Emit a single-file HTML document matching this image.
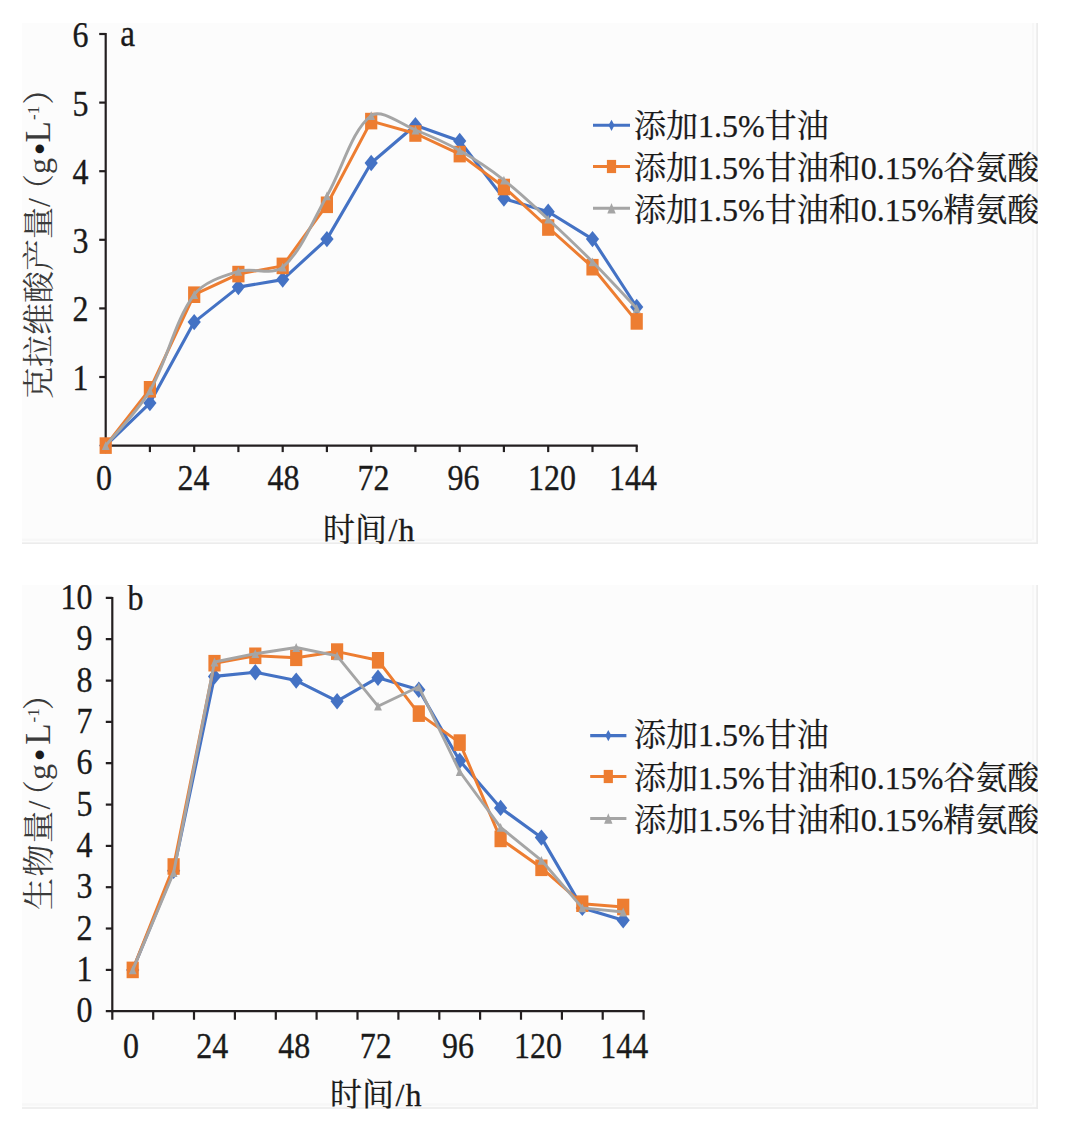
<!DOCTYPE html>
<html lang="zh-CN"><head><meta charset="utf-8"><title>克拉维酸产量与生物量</title>
<style>
html,body{margin:0;padding:0;background:#fff;}
body{width:1075px;height:1129px;overflow:hidden;}
svg{display:block;}
.tk{font-family:"Liberation Serif", "Noto Serif CJK SC", serif;font-size:32px;fill:#1a1a1a;stroke:#1a1a1a;stroke-width:0.3px;}
.lg{font-family:"Liberation Serif", "Noto Serif CJK SC", serif;font-size:32px;fill:#1a1a1a;stroke:#1a1a1a;stroke-width:0.25px;}
.yt{font-family:"Liberation Serif", "Noto Serif CJK SC", serif;font-size:32px;fill:#3a3a3a;}
.bul{font-family:"Liberation Sans",sans-serif;fill:#1a1a1a;}
</style></head>
<body>
<svg width="1075" height="1129" viewBox="0 0 1075 1129">
<rect x="22" y="23" width="1016" height="521" fill="#fcfcfc"/>
<rect x="22" y="585" width="1016" height="523.8" fill="#fcfcfc"/>
<rect x="1032" y="23.0" width="2" height="517.0" fill="#f7f7f7"/>
<rect x="22" y="538.5" width="1010" height="2.5" fill="#f7f7f7"/>
<rect x="1036.3" y="23.0" width="1.7" height="521.0" fill="#ececec"/>
<rect x="22" y="542.4" width="1016" height="1.6" fill="#ececec"/>
<rect x="1032" y="585.0" width="2" height="519.8" fill="#f7f7f7"/>
<rect x="22" y="1103.3" width="1010" height="2.5" fill="#f7f7f7"/>
<rect x="1036.3" y="585.0" width="1.7" height="523.8" fill="#ececec"/>
<rect x="22" y="1107.2" width="1016" height="1.6" fill="#ececec"/>
<svg x="22" y="23" width="1016" height="521" viewBox="22 23 1016 521" overflow="hidden">
<line x1="105.7" y1="33.0" x2="105.7" y2="446.6" stroke="#231f20" stroke-width="2.2"/>
<line x1="104.7" y1="445.6" x2="637.7" y2="445.6" stroke="#231f20" stroke-width="2.2"/>
<line x1="99.2" y1="377.0" x2="105.7" y2="377.0" stroke="#231f20" stroke-width="2.2"/>
<text transform="translate(80.5 390.0) scale(1 1.12)" class="tk" text-anchor="middle">1</text>
<line x1="99.2" y1="308.4" x2="105.7" y2="308.4" stroke="#231f20" stroke-width="2.2"/>
<text transform="translate(80.5 321.4) scale(1 1.12)" class="tk" text-anchor="middle">2</text>
<line x1="99.2" y1="239.8" x2="105.7" y2="239.8" stroke="#231f20" stroke-width="2.2"/>
<text transform="translate(80.5 252.8) scale(1 1.12)" class="tk" text-anchor="middle">3</text>
<line x1="99.2" y1="171.2" x2="105.7" y2="171.2" stroke="#231f20" stroke-width="2.2"/>
<text transform="translate(80.5 184.2) scale(1 1.12)" class="tk" text-anchor="middle">4</text>
<line x1="99.2" y1="102.6" x2="105.7" y2="102.6" stroke="#231f20" stroke-width="2.2"/>
<text transform="translate(80.5 115.6) scale(1 1.12)" class="tk" text-anchor="middle">5</text>
<line x1="99.2" y1="34.0" x2="105.7" y2="34.0" stroke="#231f20" stroke-width="2.2"/>
<text transform="translate(80.5 47.0) scale(1 1.12)" class="tk" text-anchor="middle">6</text>
<line x1="149.9" y1="445.6" x2="149.9" y2="452.1" stroke="#231f20" stroke-width="2.2"/>
<line x1="194.2" y1="445.6" x2="194.2" y2="452.1" stroke="#231f20" stroke-width="2.2"/>
<line x1="238.4" y1="445.6" x2="238.4" y2="452.1" stroke="#231f20" stroke-width="2.2"/>
<line x1="282.7" y1="445.6" x2="282.7" y2="452.1" stroke="#231f20" stroke-width="2.2"/>
<line x1="326.9" y1="445.6" x2="326.9" y2="452.1" stroke="#231f20" stroke-width="2.2"/>
<line x1="371.2" y1="445.6" x2="371.2" y2="452.1" stroke="#231f20" stroke-width="2.2"/>
<line x1="415.4" y1="445.6" x2="415.4" y2="452.1" stroke="#231f20" stroke-width="2.2"/>
<line x1="459.7" y1="445.6" x2="459.7" y2="452.1" stroke="#231f20" stroke-width="2.2"/>
<line x1="503.9" y1="445.6" x2="503.9" y2="452.1" stroke="#231f20" stroke-width="2.2"/>
<line x1="548.2" y1="445.6" x2="548.2" y2="452.1" stroke="#231f20" stroke-width="2.2"/>
<line x1="592.5" y1="445.6" x2="592.5" y2="452.1" stroke="#231f20" stroke-width="2.2"/>
<line x1="636.7" y1="445.6" x2="636.7" y2="452.1" stroke="#231f20" stroke-width="2.2"/>
<text transform="translate(104.0 490.0) scale(1 1.12)" class="tk" text-anchor="middle">0</text>
<text transform="translate(193.6 490.0) scale(1 1.12)" class="tk" text-anchor="middle">24</text>
<text transform="translate(283.5 490.0) scale(1 1.12)" class="tk" text-anchor="middle">48</text>
<text transform="translate(373.5 490.0) scale(1 1.12)" class="tk" text-anchor="middle">72</text>
<text transform="translate(463.5 490.0) scale(1 1.12)" class="tk" text-anchor="middle">96</text>
<text transform="translate(552.0 490.0) scale(1 1.12)" class="tk" text-anchor="middle">120</text>
<text transform="translate(633.0 490.0) scale(1 1.12)" class="tk" text-anchor="middle">144</text>
<text transform="translate(120.3 45.6) scale(1.04 1.2)" class="tk">a</text>
<path d="M105.7 445.6 L149.9 403.1 L194.2 322.1 L238.4 287.1 L282.7 279.6 L326.9 239.1 L371.2 163.0 L415.4 125.2 L459.7 141.0 L503.9 198.6 L548.2 211.7 L592.5 239.1 L636.7 307.0" fill="none" stroke="#4472c4" stroke-width="3.1" stroke-linejoin="round"/>
<path d="M105.7 437.4L112.3 445.6L105.7 453.8L99.1 445.6Z" fill="#4472c4"/>
<path d="M149.9 394.9L156.5 403.1L149.9 411.3L143.3 403.1Z" fill="#4472c4"/>
<path d="M194.2 313.9L200.8 322.1L194.2 330.3L187.6 322.1Z" fill="#4472c4"/>
<path d="M238.4 278.9L245.0 287.1L238.4 295.3L231.8 287.1Z" fill="#4472c4"/>
<path d="M282.7 271.4L289.3 279.6L282.7 287.8L276.1 279.6Z" fill="#4472c4"/>
<path d="M326.9 230.9L333.6 239.1L326.9 247.3L320.3 239.1Z" fill="#4472c4"/>
<path d="M371.2 154.8L377.8 163.0L371.2 171.2L364.6 163.0Z" fill="#4472c4"/>
<path d="M415.4 117.0L422.1 125.2L415.4 133.4L408.8 125.2Z" fill="#4472c4"/>
<path d="M459.7 132.8L466.3 141.0L459.7 149.2L453.1 141.0Z" fill="#4472c4"/>
<path d="M503.9 190.4L510.6 198.6L503.9 206.8L497.3 198.6Z" fill="#4472c4"/>
<path d="M548.2 203.5L554.8 211.7L548.2 219.9L541.6 211.7Z" fill="#4472c4"/>
<path d="M592.5 230.9L599.1 239.1L592.5 247.3L585.9 239.1Z" fill="#4472c4"/>
<path d="M636.7 298.8L643.3 307.0L636.7 315.2L630.1 307.0Z" fill="#4472c4"/>
<path d="M105.7 445.6 L149.9 389.3 L194.2 294.7 L238.4 274.1 L282.7 265.9 L326.9 204.8 L371.2 121.1 L415.4 133.5 L459.7 154.1 L503.9 187.0 L548.2 227.5 L592.5 267.2 L636.7 321.4" fill="none" stroke="#ed7d31" stroke-width="3.0" stroke-linejoin="round"/>
<rect x="99.6" y="437.3" width="12.2" height="16.6" fill="#ed7d31"/>
<rect x="143.8" y="381.0" width="12.2" height="16.6" fill="#ed7d31"/>
<rect x="188.1" y="286.4" width="12.2" height="16.6" fill="#ed7d31"/>
<rect x="232.3" y="265.8" width="12.2" height="16.6" fill="#ed7d31"/>
<rect x="276.6" y="257.6" width="12.2" height="16.6" fill="#ed7d31"/>
<rect x="320.8" y="196.5" width="12.2" height="16.6" fill="#ed7d31"/>
<rect x="365.1" y="112.8" width="12.2" height="16.6" fill="#ed7d31"/>
<rect x="409.3" y="125.2" width="12.2" height="16.6" fill="#ed7d31"/>
<rect x="453.6" y="145.8" width="12.2" height="16.6" fill="#ed7d31"/>
<rect x="497.8" y="178.7" width="12.2" height="16.6" fill="#ed7d31"/>
<rect x="542.1" y="219.2" width="12.2" height="16.6" fill="#ed7d31"/>
<rect x="586.4" y="258.9" width="12.2" height="16.6" fill="#ed7d31"/>
<rect x="630.6" y="313.1" width="12.2" height="16.6" fill="#ed7d31"/>
<path d="M105.7 445.6 C113.1 436.5 138.1 410.8 149.9 390.7 C167.6 360.5 174.2 321.7 194.2 294.7 C203.7 281.9 222.8 276.2 238.4 271.4 C252.3 267.1 272.5 275.9 282.7 267.2 C302.0 250.8 312.8 220.1 326.9 195.9 C342.3 169.5 351.6 130.2 371.2 115.6 C381.1 108.2 401.1 124.3 415.4 130.0 C430.6 136.0 445.6 142.6 459.7 150.6 C475.1 159.3 490.0 169.3 503.9 180.1 C519.5 192.1 533.7 205.9 548.2 219.2 C563.2 233.1 578.0 247.2 592.5 261.8 C607.5 277.0 629.3 300.6 636.7 308.4" fill="none" stroke="#a5a5a5" stroke-width="2.9" stroke-linejoin="round"/>
<path d="M105.7 441.2L109.6 450.0L101.8 450.0Z" fill="#a5a5a5"/>
<path d="M149.9 386.3L153.8 395.1L146.0 395.1Z" fill="#a5a5a5"/>
<path d="M194.2 290.3L198.1 299.1L190.3 299.1Z" fill="#a5a5a5"/>
<path d="M238.4 267.0L242.3 275.8L234.5 275.8Z" fill="#a5a5a5"/>
<path d="M282.7 262.8L286.6 271.6L278.8 271.6Z" fill="#a5a5a5"/>
<path d="M326.9 191.5L330.8 200.3L323.1 200.3Z" fill="#a5a5a5"/>
<path d="M371.2 111.2L375.1 120.0L367.3 120.0Z" fill="#a5a5a5"/>
<path d="M415.4 125.6L419.3 134.4L411.6 134.4Z" fill="#a5a5a5"/>
<path d="M459.7 146.2L463.6 155.0L455.8 155.0Z" fill="#a5a5a5"/>
<path d="M503.9 175.7L507.8 184.5L500.1 184.5Z" fill="#a5a5a5"/>
<path d="M548.2 214.8L552.1 223.6L544.3 223.6Z" fill="#a5a5a5"/>
<path d="M592.5 257.4L596.4 266.2L588.6 266.2Z" fill="#a5a5a5"/>
<path d="M636.7 304.0L640.6 312.8L632.8 312.8Z" fill="#a5a5a5"/>
<line x1="593.0" y1="125.3" x2="630.0" y2="125.3" stroke="#4472c4" stroke-width="3.1"/>
<path d="M611.5 119.7L614.5 125.3L611.5 130.9L608.5 125.3Z" fill="#4472c4"/>
<text x="634.0" y="137.2" class="lg">添加1.5%甘油</text>
<line x1="593.0" y1="166.5" x2="630.0" y2="166.5" stroke="#ed7d31" stroke-width="3.0"/>
<rect x="606.9" y="159.9" width="9.2" height="13.2" fill="#ed7d31"/>
<text x="634.0" y="179.2" class="lg">添加1.5%甘油和0.15%谷氨酸</text>
<line x1="593.0" y1="208.3" x2="630.0" y2="208.3" stroke="#a5a5a5" stroke-width="2.9"/>
<path d="M611.5 203.0L615.7 213.6L607.3 213.6Z" fill="#a5a5a5"/>
<text x="634.0" y="221.2" class="lg">添加1.5%甘油和0.15%精氨酸</text>
<text x="323" y="541" class="tk">时间<tspan dx="1.5">/</tspan><tspan dx="1">h</tspan></text>
<text transform="translate(50,399) rotate(-90)" class="yt">克拉维酸产量/<tspan dx="-8">（</tspan>g<tspan class="bul" dx="3.5">•</tspan><tspan font-size="35" dx="1">L</tspan><tspan dy="-11" font-size="17" dx="1">-1</tspan><tspan dy="11" dx="1">）</tspan></text>
</svg>
<svg x="22" y="585" width="1016" height="523.5" viewBox="22 585 1016 523.5" overflow="hidden">
<line x1="112.3" y1="596.9" x2="112.3" y2="1012.2" stroke="#231f20" stroke-width="2.2"/>
<line x1="105.8" y1="1011.2" x2="644.6" y2="1011.2" stroke="#231f20" stroke-width="2.2"/>
<text transform="translate(92.5 1022.2) scale(1 1.12)" class="tk" text-anchor="end">0</text>
<line x1="105.8" y1="969.9" x2="112.3" y2="969.9" stroke="#231f20" stroke-width="2.2"/>
<text transform="translate(92.5 980.9) scale(1 1.12)" class="tk" text-anchor="end">1</text>
<line x1="105.8" y1="928.5" x2="112.3" y2="928.5" stroke="#231f20" stroke-width="2.2"/>
<text transform="translate(92.5 939.5) scale(1 1.12)" class="tk" text-anchor="end">2</text>
<line x1="105.8" y1="887.2" x2="112.3" y2="887.2" stroke="#231f20" stroke-width="2.2"/>
<text transform="translate(92.5 898.2) scale(1 1.12)" class="tk" text-anchor="end">3</text>
<line x1="105.8" y1="845.9" x2="112.3" y2="845.9" stroke="#231f20" stroke-width="2.2"/>
<text transform="translate(92.5 856.9) scale(1 1.12)" class="tk" text-anchor="end">4</text>
<line x1="105.8" y1="804.6" x2="112.3" y2="804.6" stroke="#231f20" stroke-width="2.2"/>
<text transform="translate(92.5 815.6) scale(1 1.12)" class="tk" text-anchor="end">5</text>
<line x1="105.8" y1="763.2" x2="112.3" y2="763.2" stroke="#231f20" stroke-width="2.2"/>
<text transform="translate(92.5 774.2) scale(1 1.12)" class="tk" text-anchor="end">6</text>
<line x1="105.8" y1="721.9" x2="112.3" y2="721.9" stroke="#231f20" stroke-width="2.2"/>
<text transform="translate(92.5 732.9) scale(1 1.12)" class="tk" text-anchor="end">7</text>
<line x1="105.8" y1="680.6" x2="112.3" y2="680.6" stroke="#231f20" stroke-width="2.2"/>
<text transform="translate(92.5 691.6) scale(1 1.12)" class="tk" text-anchor="end">8</text>
<line x1="105.8" y1="639.2" x2="112.3" y2="639.2" stroke="#231f20" stroke-width="2.2"/>
<text transform="translate(92.5 650.2) scale(1 1.12)" class="tk" text-anchor="end">9</text>
<line x1="105.8" y1="597.9" x2="112.3" y2="597.9" stroke="#231f20" stroke-width="2.2"/>
<text transform="translate(92.5 608.9) scale(1 1.12)" class="tk" text-anchor="end">10</text>
<line x1="112.3" y1="1011.2" x2="112.3" y2="1019.7" stroke="#231f20" stroke-width="2.2"/>
<line x1="153.2" y1="1011.2" x2="153.2" y2="1019.7" stroke="#231f20" stroke-width="2.2"/>
<line x1="194.0" y1="1011.2" x2="194.0" y2="1019.7" stroke="#231f20" stroke-width="2.2"/>
<line x1="234.9" y1="1011.2" x2="234.9" y2="1019.7" stroke="#231f20" stroke-width="2.2"/>
<line x1="275.8" y1="1011.2" x2="275.8" y2="1019.7" stroke="#231f20" stroke-width="2.2"/>
<line x1="316.6" y1="1011.2" x2="316.6" y2="1019.7" stroke="#231f20" stroke-width="2.2"/>
<line x1="357.5" y1="1011.2" x2="357.5" y2="1019.7" stroke="#231f20" stroke-width="2.2"/>
<line x1="398.4" y1="1011.2" x2="398.4" y2="1019.7" stroke="#231f20" stroke-width="2.2"/>
<line x1="439.3" y1="1011.2" x2="439.3" y2="1019.7" stroke="#231f20" stroke-width="2.2"/>
<line x1="480.1" y1="1011.2" x2="480.1" y2="1019.7" stroke="#231f20" stroke-width="2.2"/>
<line x1="521.0" y1="1011.2" x2="521.0" y2="1019.7" stroke="#231f20" stroke-width="2.2"/>
<line x1="561.9" y1="1011.2" x2="561.9" y2="1019.7" stroke="#231f20" stroke-width="2.2"/>
<line x1="602.7" y1="1011.2" x2="602.7" y2="1019.7" stroke="#231f20" stroke-width="2.2"/>
<line x1="643.6" y1="1011.2" x2="643.6" y2="1019.7" stroke="#231f20" stroke-width="2.2"/>
<text transform="translate(130.9 1058.0) scale(1 1.12)" class="tk" text-anchor="middle">0</text>
<text transform="translate(212.2 1058.0) scale(1 1.12)" class="tk" text-anchor="middle">24</text>
<text transform="translate(294.2 1058.0) scale(1 1.12)" class="tk" text-anchor="middle">48</text>
<text transform="translate(375.7 1058.0) scale(1 1.12)" class="tk" text-anchor="middle">72</text>
<text transform="translate(458.0 1058.0) scale(1 1.12)" class="tk" text-anchor="middle">96</text>
<text transform="translate(537.9 1058.0) scale(1 1.12)" class="tk" text-anchor="middle">120</text>
<text transform="translate(624.3 1058.0) scale(1 1.12)" class="tk" text-anchor="middle">144</text>
<text transform="translate(127.6 610.2) scale(1 1.1)" class="tk">b</text>
<path d="M132.7 969.9 L173.6 870.7 L214.5 676.4 L255.3 672.3 L296.2 680.6 L337.1 701.2 L378.0 677.7 L418.8 689.7 L459.7 760.7 L500.6 807.9 L541.4 837.6 L582.3 907.9 L623.2 920.3" fill="none" stroke="#4472c4" stroke-width="3.1" stroke-linejoin="round"/>
<path d="M132.7 961.7L139.3 969.9L132.7 978.1L126.1 969.9Z" fill="#4472c4"/>
<path d="M173.6 862.5L180.2 870.7L173.6 878.9L167.0 870.7Z" fill="#4472c4"/>
<path d="M214.5 668.2L221.1 676.4L214.5 684.6L207.9 676.4Z" fill="#4472c4"/>
<path d="M255.3 664.1L261.9 672.3L255.3 680.5L248.7 672.3Z" fill="#4472c4"/>
<path d="M296.2 672.4L302.8 680.6L296.2 688.8L289.6 680.6Z" fill="#4472c4"/>
<path d="M337.1 693.0L343.7 701.2L337.1 709.4L330.5 701.2Z" fill="#4472c4"/>
<path d="M378.0 669.5L384.6 677.7L378.0 685.9L371.4 677.7Z" fill="#4472c4"/>
<path d="M418.8 681.5L425.4 689.7L418.8 697.9L412.2 689.7Z" fill="#4472c4"/>
<path d="M459.7 752.5L466.3 760.7L459.7 768.9L453.1 760.7Z" fill="#4472c4"/>
<path d="M500.6 799.7L507.2 807.9L500.6 816.1L494.0 807.9Z" fill="#4472c4"/>
<path d="M541.4 829.4L548.0 837.6L541.4 845.8L534.8 837.6Z" fill="#4472c4"/>
<path d="M582.3 899.7L588.9 907.9L582.3 916.1L575.7 907.9Z" fill="#4472c4"/>
<path d="M623.2 912.1L629.8 920.3L623.2 928.5L616.6 920.3Z" fill="#4472c4"/>
<path d="M132.7 969.9 L173.6 866.5 L214.5 663.2 L255.3 655.8 L296.2 657.8 L337.1 651.6 L378.0 660.3 L418.8 713.6 L459.7 742.6 L500.6 838.9 L541.4 867.8 L582.3 903.7 L623.2 907.0" fill="none" stroke="#ed7d31" stroke-width="3.0" stroke-linejoin="round"/>
<rect x="126.6" y="961.6" width="12.2" height="16.6" fill="#ed7d31"/>
<rect x="167.5" y="858.2" width="12.2" height="16.6" fill="#ed7d31"/>
<rect x="208.4" y="654.9" width="12.2" height="16.6" fill="#ed7d31"/>
<rect x="249.2" y="647.5" width="12.2" height="16.6" fill="#ed7d31"/>
<rect x="290.1" y="649.5" width="12.2" height="16.6" fill="#ed7d31"/>
<rect x="331.0" y="643.3" width="12.2" height="16.6" fill="#ed7d31"/>
<rect x="371.9" y="652.0" width="12.2" height="16.6" fill="#ed7d31"/>
<rect x="412.7" y="705.3" width="12.2" height="16.6" fill="#ed7d31"/>
<rect x="453.6" y="734.3" width="12.2" height="16.6" fill="#ed7d31"/>
<rect x="494.5" y="830.6" width="12.2" height="16.6" fill="#ed7d31"/>
<rect x="535.3" y="859.5" width="12.2" height="16.6" fill="#ed7d31"/>
<rect x="576.2" y="895.4" width="12.2" height="16.6" fill="#ed7d31"/>
<rect x="617.1" y="898.7" width="12.2" height="16.6" fill="#ed7d31"/>
<path d="M132.7 969.9 L173.6 872.7 L214.5 662.0 L255.3 653.7 L296.2 647.5 L337.1 655.8 L378.0 706.2 L418.8 686.8 L459.7 771.5 L500.6 827.3 L541.4 860.3 L582.3 907.9 L623.2 912.0" fill="none" stroke="#a5a5a5" stroke-width="2.9" stroke-linejoin="round"/>
<path d="M132.7 965.5L136.6 974.3L128.8 974.3Z" fill="#a5a5a5"/>
<path d="M173.6 868.3L177.5 877.1L169.7 877.1Z" fill="#a5a5a5"/>
<path d="M214.5 657.6L218.4 666.4L210.6 666.4Z" fill="#a5a5a5"/>
<path d="M255.3 649.3L259.2 658.1L251.4 658.1Z" fill="#a5a5a5"/>
<path d="M296.2 643.1L300.1 651.9L292.3 651.9Z" fill="#a5a5a5"/>
<path d="M337.1 651.4L341.0 660.2L333.2 660.2Z" fill="#a5a5a5"/>
<path d="M378.0 701.8L381.9 710.6L374.1 710.6Z" fill="#a5a5a5"/>
<path d="M418.8 682.4L422.7 691.2L414.9 691.2Z" fill="#a5a5a5"/>
<path d="M459.7 767.1L463.6 775.9L455.8 775.9Z" fill="#a5a5a5"/>
<path d="M500.6 822.9L504.5 831.7L496.7 831.7Z" fill="#a5a5a5"/>
<path d="M541.4 855.9L545.3 864.7L537.5 864.7Z" fill="#a5a5a5"/>
<path d="M582.3 903.5L586.2 912.3L578.4 912.3Z" fill="#a5a5a5"/>
<path d="M623.2 907.6L627.1 916.4L619.3 916.4Z" fill="#a5a5a5"/>
<line x1="590.2" y1="735.6" x2="626.4" y2="735.6" stroke="#4472c4" stroke-width="3.1"/>
<path d="M608.3 730.0L611.3 735.6L608.3 741.2L605.3 735.6Z" fill="#4472c4"/>
<text x="634.0" y="746.4" class="lg">添加1.5%甘油</text>
<line x1="590.2" y1="776.5" x2="626.4" y2="776.5" stroke="#ed7d31" stroke-width="3.0"/>
<rect x="603.7" y="769.9" width="9.2" height="13.2" fill="#ed7d31"/>
<text x="634.0" y="788.6" class="lg">添加1.5%甘油和0.15%谷氨酸</text>
<line x1="590.2" y1="818.5" x2="626.4" y2="818.5" stroke="#a5a5a5" stroke-width="2.9"/>
<path d="M608.3 813.2L612.5 823.8L604.1 823.8Z" fill="#a5a5a5"/>
<text x="634.0" y="830.6" class="lg">添加1.5%甘油和0.15%精氨酸</text>
<text x="330" y="1106" class="tk">时间<tspan dx="1.5">/</tspan><tspan dx="1">h</tspan></text>
<text transform="translate(50,910) rotate(-90)" class="yt"><tspan dx="0 1.5 1.5 1.5">生物量/</tspan><tspan dx="-11.5">（</tspan>g<tspan class="bul" dx="3.5">•</tspan><tspan font-size="35" dx="4.5">L</tspan><tspan dy="-11" font-size="17" dx="1">-1</tspan><tspan dy="11" dx="-2">）</tspan></text>
</svg>
</svg>
</body></html>
